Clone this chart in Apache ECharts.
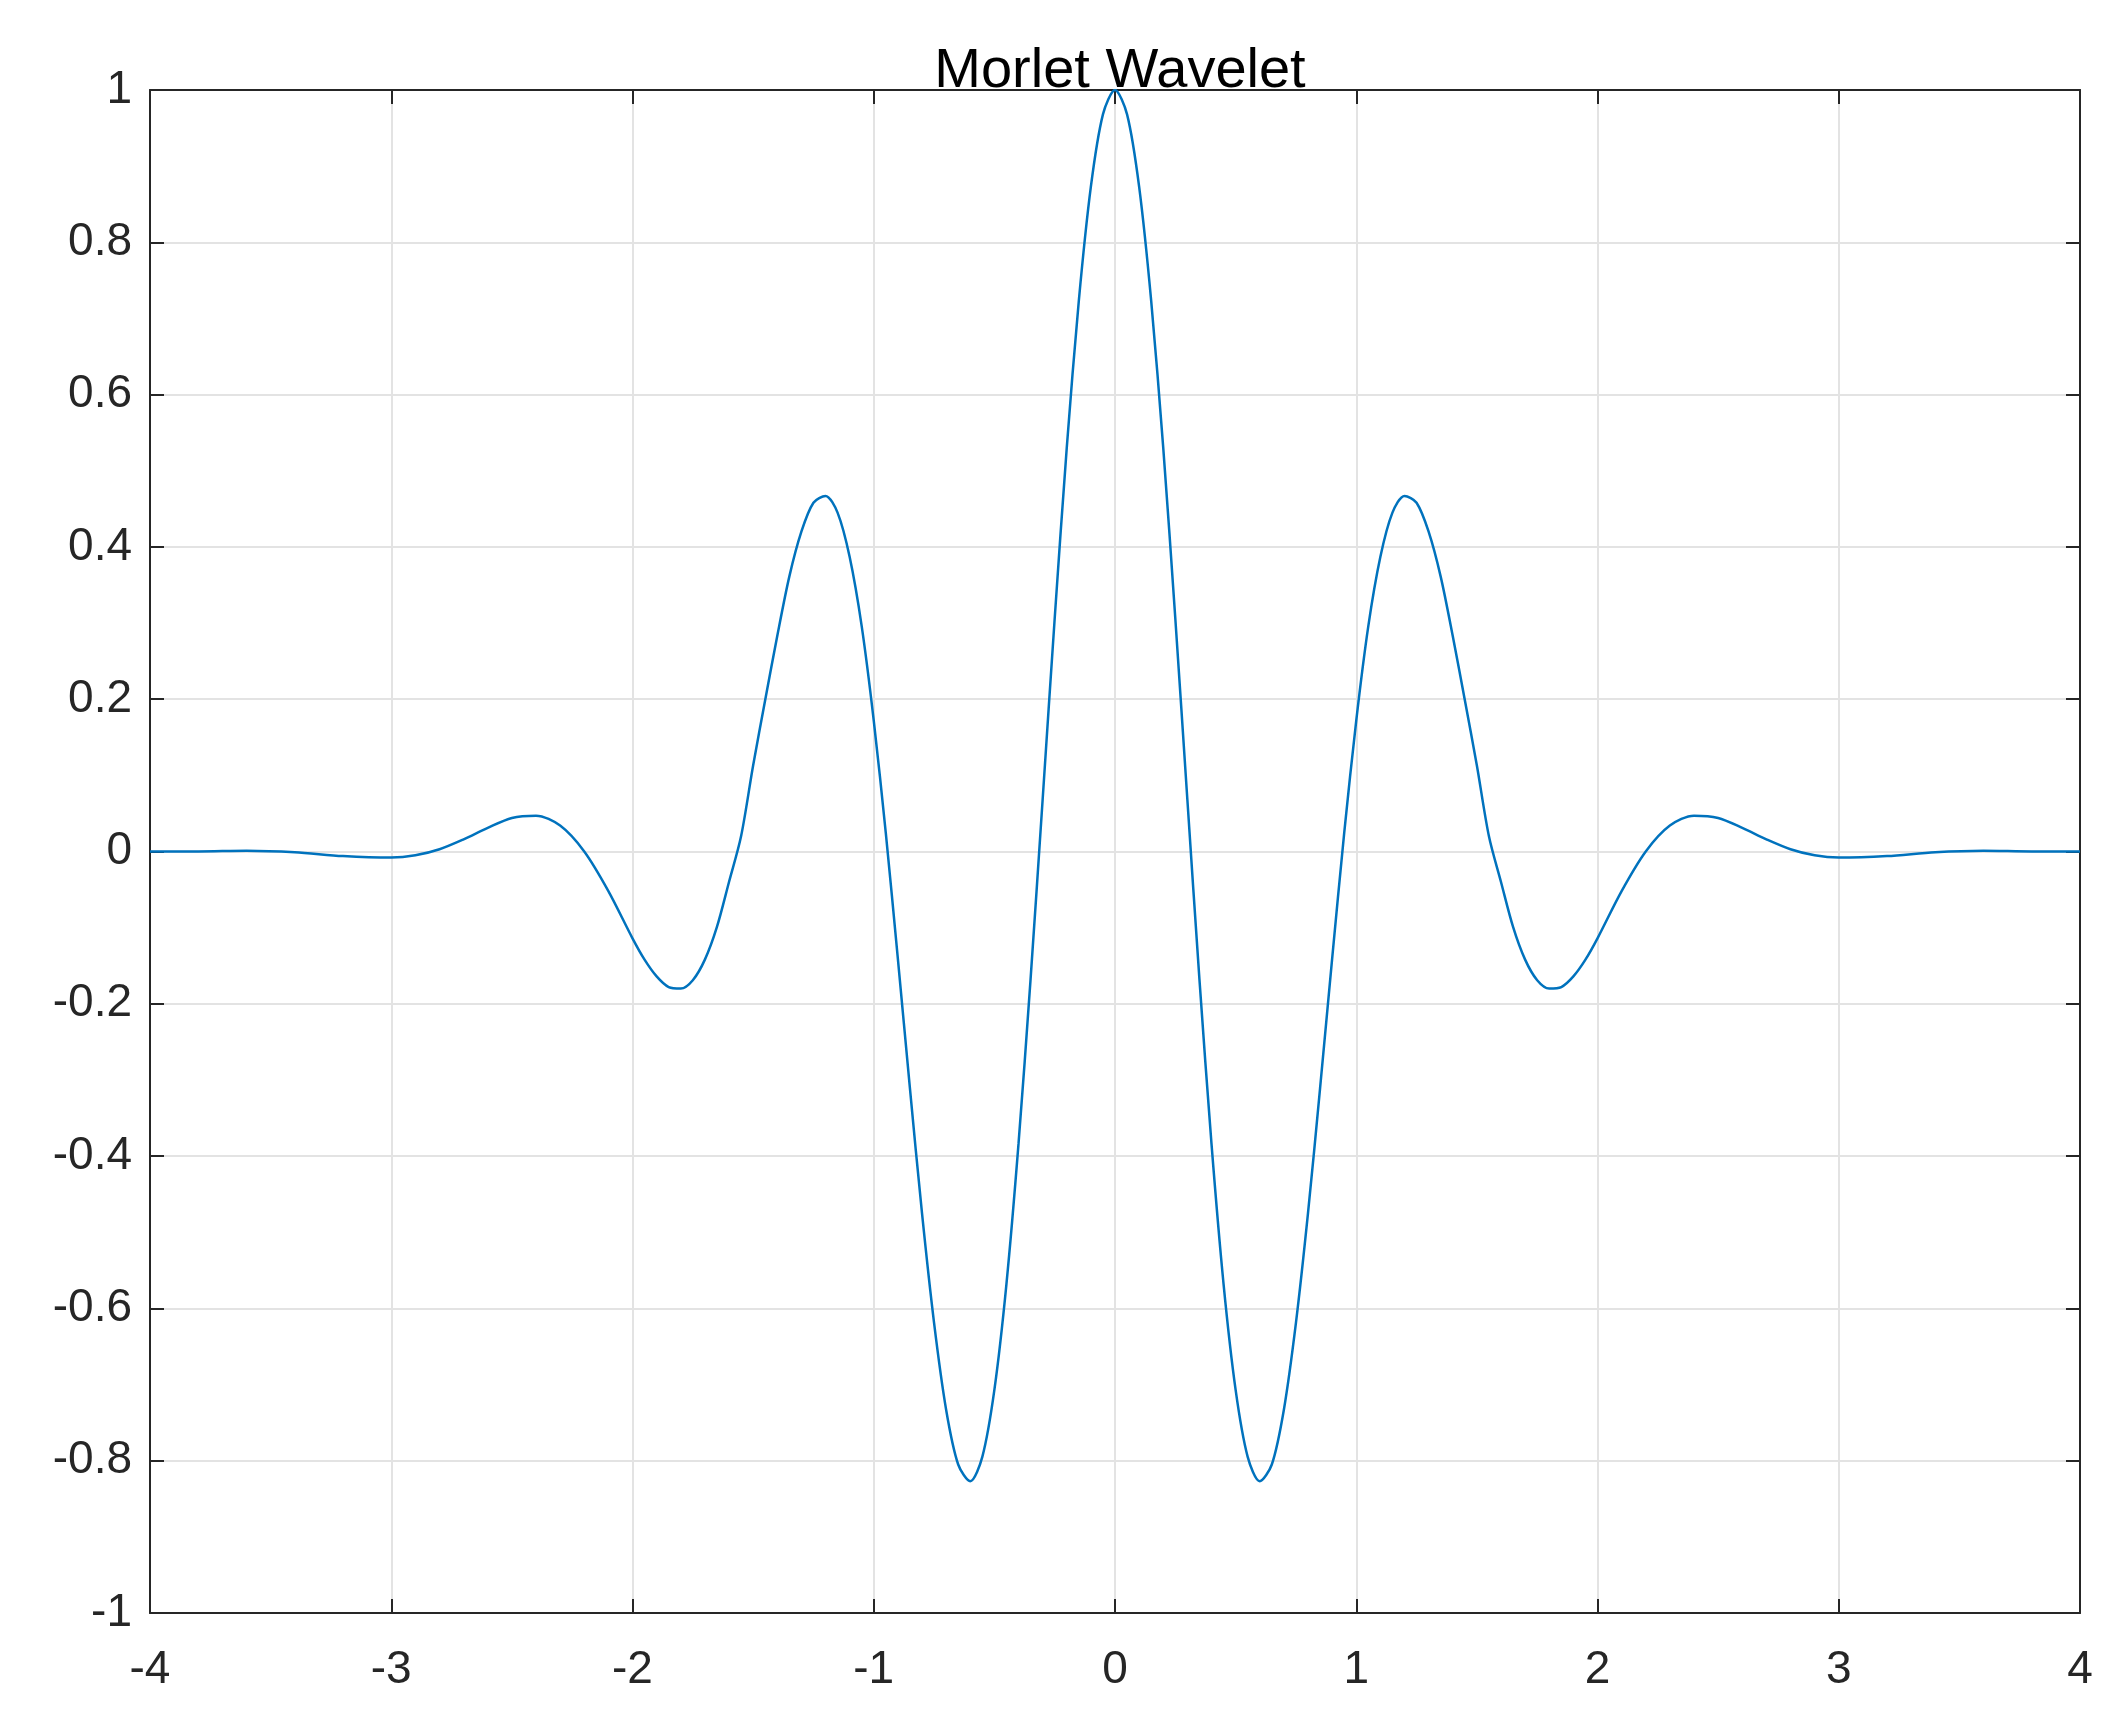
<html>
<head>
<script src="https://cdn.jsdelivr.net/npm/echarts@6/dist/echarts.min.js"></script>
</head>
<body style="margin:0;background:#fff">
<div id="main" style="width:2106px;height:1721px;"></div>
<script>
// right half of the curve (x >= 0); left half is the mirror
var xRight = [0, 0.05, 0.1, 0.15, 0.2, 0.25, 0.3, 0.35, 0.4, 0.45, 0.5, 0.55, 0.6, 0.65, 0.7, 0.75, 0.8, 0.85, 0.9, 0.95,
              1.0, 1.05, 1.1, 1.15, 1.2, 1.25, 1.3, 1.35, 1.4, 1.45, 1.5, 1.55, 1.6, 1.65, 1.7, 1.75, 1.8, 1.85, 1.9, 1.95, 2.0,
              2.1, 2.2, 2.3, 2.4, 2.5, 2.6, 2.7, 2.8, 2.9, 3.0, 3.2, 3.4, 3.6, 3.8, 4.0];
var yRight = [1, 0.968, 0.873, 0.723, 0.530, 0.306, 0.068, -0.168, -0.384, -0.568, -0.707, -0.795, -0.827, -0.805, -0.733,
              -0.619, -0.475, -0.311, -0.141, 0.024, 0.172, 0.296, 0.387, 0.445, 0.467, 0.458, 0.420, 0.361, 0.283, 0.199,
              0.113, 0.020, -0.040, -0.099, -0.142, -0.169, -0.180, -0.178, -0.164, -0.142, -0.114,
              -0.052, 0.000, 0.034, 0.047, 0.044, 0.031, 0.016, 0.003, -0.005, -0.008, -0.006, -0.001, 0.001, 0, 0];

var pts = [];
for (var i = xRight.length - 1; i > 0; i--) pts.push([-xRight[i], yRight[i]]);
for (var j = 0; j < xRight.length; j++) pts.push([xRight[j], yRight[j]]);

var font = 'Arial, Liberation Sans, sans-serif';
var lbl = {fontSize: 46, color: '#262626', fontFamily: font};

function ax(pos, show, min, max, step) {
    return {
        type: 'value', position: pos, min: min, max: max, interval: step,
        axisLine: {show: true, onZero: false, lineStyle: {color: '#262626', width: 2}},
        axisTick: {show: true, inside: true, length: 14, lineStyle: {color: '#262626', width: 2}},
        axisLabel: show ? Object.assign({margin: 18}, lbl) : {show: false},
        splitLine: {show: show, lineStyle: {color: '#e3e3e3', width: 2}}
    };
}

var chart = echarts.init(document.getElementById('main'));
chart.setOption({
    animation: false,
    backgroundColor: '#fff',
    title: {text: 'Morlet Wavelet', left: 1115, textAlign: 'center', top: 18,
        textStyle: {fontSize: 56, fontWeight: 'normal', color: '#000', fontFamily: font}},
    grid: {left: 150, right: 26, top: 90, bottom: 108},
    xAxis: [ax('bottom', true, -4, 4, 1), ax('top', false, -4, 4, 1)],
    yAxis: [ax('left', true, -1, 1, 0.2), ax('right', false, -1, 1, 0.2)],
    series: [{
        type: 'line', data: pts, smooth: 0.3, showSymbol: false,
        lineStyle: {color: '#0072BD', width: 2.5}
    }]
});
</script>
</body>
</html>
